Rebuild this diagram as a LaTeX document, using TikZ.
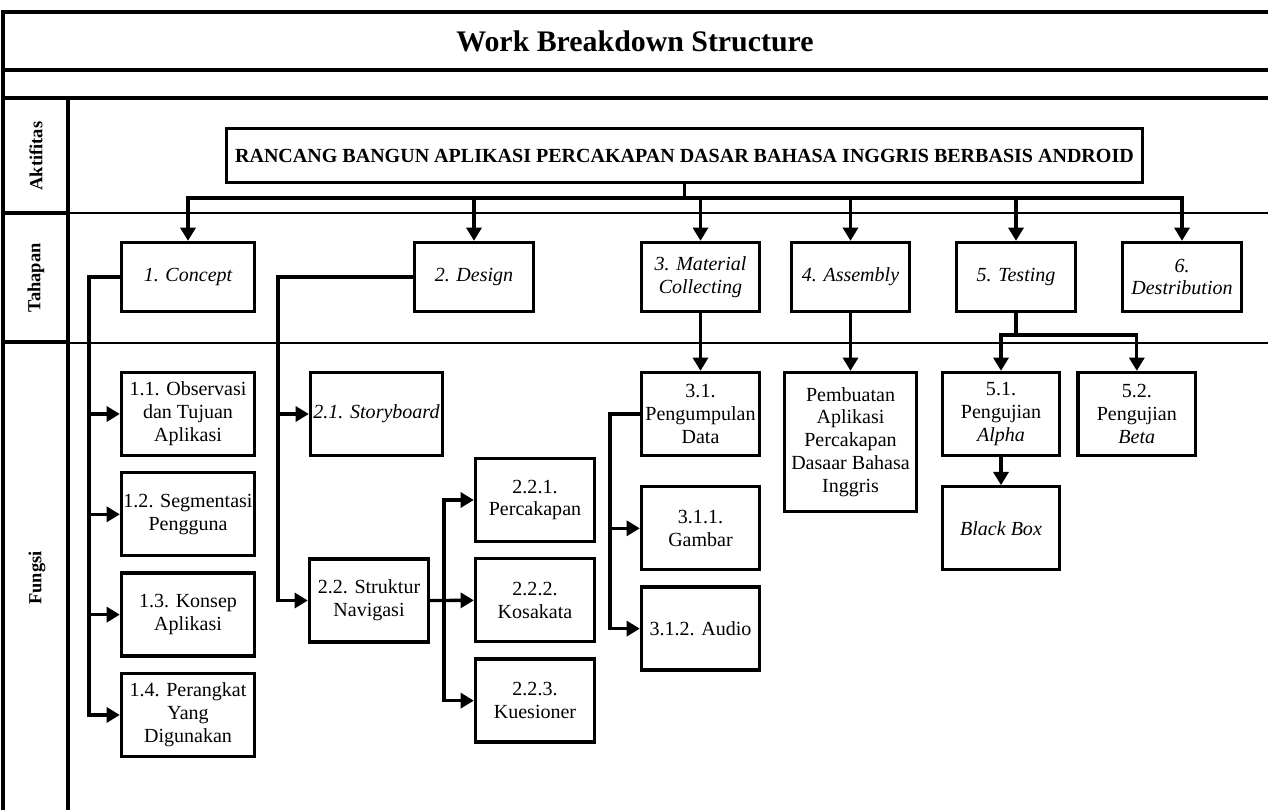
\documentclass[tikz,border=0pt]{standalone}
\usepackage{fontspec}
\setmainfont{Liberation Serif}
\usetikzlibrary{arrows.meta,positioning}

\begin{document}
\begin{tikzpicture}[x=0.02cm, y=-0.02cm,
		>={Triangle[width=8.5pt,length=7.5pt]},
		node distance = 0.28cm,
		font = \fontsize{11.4}{13}\selectfont,
		box/.style = {draw, line width=1.9pt, align=center, inner sep=1pt, minimum width=2.36cm, minimum height=1.66cm},
		stage/.style = {box, minimum height=1.38cm, font=\fontsize{11.4}{13}\selectfont\itshape},
		conn/.style = {line width=1.9pt},
		frame/.style = {line width=1.9pt},
		thin/.style = {line width=0.8pt},
		lane/.style = {rotate=90, inner sep=0pt, font=\fontsize{10.5}{12}\selectfont\bfseries}
		]
		\useasboundingbox (0,0) rectangle (1268,810);
		
		% frame and lanes
		\draw[frame] (1268,12) -- (3,12) -- (3,810);
		\draw[frame] (3,70) -- (1268,70);
		\draw[frame] (3,98) -- (1268,98);
		\draw[frame] (68,98) -- (68,810);
		\draw[frame] (3,213) -- (68,213);
		\draw[frame] (3,342) -- (68,342);
		\draw[thin] (68,213) -- (1268,213);
		\draw[thin] (68,343) -- (1268,343);
		
		\node (title) at (635,41) {\fontsize{17}{20}\selectfont\bfseries Work Breakdown Structure};
		\node[lane] (akt) at (36,156) {Aktifitas};
		\node[lane] (tah) at (36,278) {Tahapan};
		\node[lane] (fun) at (37,578) {Fungsi};
		
		\node (root) [box, minimum width=18.32cm, minimum height=1.08cm, font=\fontsize{11.4}{13}\selectfont\bfseries] at (684.5,155.5) {RANCANG BANGUN APLIKASI PERCAKAPAN DASAR BAHASA INGGRIS BERBASIS ANDROID};
		
		\node (t1) [stage, minimum width=2.66cm] at (188,277)    {1. Concept};
		\node (t2) [stage, minimum width=2.38cm] at (474,277)    {2. Design};
		\node (t3) [stage] at (700.5,277)                        {3. Material\\Collecting};
		\node (t4) [stage] at (850.5,277)                        {4. Assembly};
		\node (t5) [stage, minimum width=2.38cm] at (1016,277)   {5. Testing};
		\node (t6) [stage, minimum width=2.38cm] at (1182,277)   {6.\\Destribution};
		
		\node (f11) [box, minimum width=2.66cm] at (188,414)     {1.1. Observasi\\dan Tujuan\\Aplikasi};
		\node (f12) [box, minimum width=2.66cm, below=of f11]    {1.2. Segmentasi\\Pengguna};
		\node (f13) [box, minimum width=2.66cm, below=of f12]    {1.3. Konsep\\Aplikasi};
		\node (f14) [box, minimum width=2.66cm, below=of f13]    {1.4. Perangkat\\Yang\\Digunakan};
		
		\node (f21) [box, minimum width=2.64cm, font=\fontsize{11.4}{13}\selectfont\itshape] at (376.5,414) {2.1. Storyboard};
		\node (f22) [box, minimum width=2.38cm] at (369,600.5)   {2.2. Struktur\\Navigasi};
		\node (f221) [box, minimum width=2.38cm] at (535,500)    {2.2.1.\\Percakapan};
		\node (f222) [box, minimum width=2.38cm, below=of f221]  {2.2.2.\\Kosakata};
		\node (f223) [box, minimum width=2.38cm, below=of f222]  {2.2.3.\\Kuesioner};
		
		\node (f31) [box] at (700.5,414)                         {3.1.\\Pengumpulan\\Data};
		\node (f311) [box, below=0.56cm of f31]                  {3.1.1.\\Gambar};
		\node (f312) [box, below=of f311]                        {3.1.2. Audio};
		
		\node (f4) [box, minimum width=2.64cm, minimum height=2.78cm] at (850.5,442) {Pembuatan\\Aplikasi\\Percakapan\\Dasaar Bahasa\\Inggris};
		
		\node (f51) [box, minimum width=2.34cm] at (1001,414)    {5.1.\\Pengujian\\\textit{Alpha}};
		\node (f52) [box, right=0.3cm of f51]                    {5.2.\\Pengujian\\\textit{Beta}};
		\node (bb) [box, minimum width=2.34cm, below=0.56cm of f51, font=\fontsize{11.4}{13}\selectfont\itshape] {Black Box};
		
		\coordinate[below=of root.south] (bus);
		\coordinate[left=0.62cm of t1.west] (s1);
		\coordinate[left=2.7cm of t2.west] (s2);
		\coordinate[right=of f22.east] (s22);
		\coordinate[left=0.6cm of f31.west] (s3);
		\coordinate[below=0.44cm of t5.south] (s5);
		
		\draw[conn,->] (root.south) -- (bus) -| (t1.north);
		\draw[conn,->] (root.south) -- (bus) -| (t2.north);
		\draw[conn,->] (root.south) -- (bus) -| (t3.north);
		\draw[conn,->] (root.south) -- (bus) -| (t4.north);
		\draw[conn,->] (root.south) -- (bus) -| (t5.north);
		\draw[conn,->] (root.south) -- (bus) -| (t6.north);
		
		\draw[conn,->] (t1.west) -- (s1) |- (f11.west);
		\draw[conn,->] (t1.west) -- (s1) |- (f12.west);
		\draw[conn,->] (t1.west) -- (s1) |- (f13.west);
		\draw[conn,->] (t1.west) -- (s1) |- (f14.west);
		
		\draw[conn,->] (t2.west) -- (s2) |- (f21.west);
		\draw[conn,->] (t2.west) -- (s2) |- (f22.west);
		\draw[conn,->] (f22.east) -- (s22) |- (f221.west);
		\draw[conn,->] (f22.east) -- (f222.west);
		\draw[conn,->] (f22.east) -- (s22) |- (f223.west);
		
		\draw[conn,->] (t3.south) -- (f31.north);
		\draw[conn,->] (f31.west) -- (s3) |- (f311.west);
		\draw[conn,->] (f31.west) -- (s3) |- (f312.west);
		
		\draw[conn,->] (t4.south) -- (f4.north);
		
		\draw[conn,->] (t5.south) -- (s5) -| (f51.north);
		\draw[conn,->] (t5.south) -- (s5) -| (f52.north);
		\draw[conn,->] (f51.south) -- (bb.north);
		
\end{tikzpicture}
\end{document}
